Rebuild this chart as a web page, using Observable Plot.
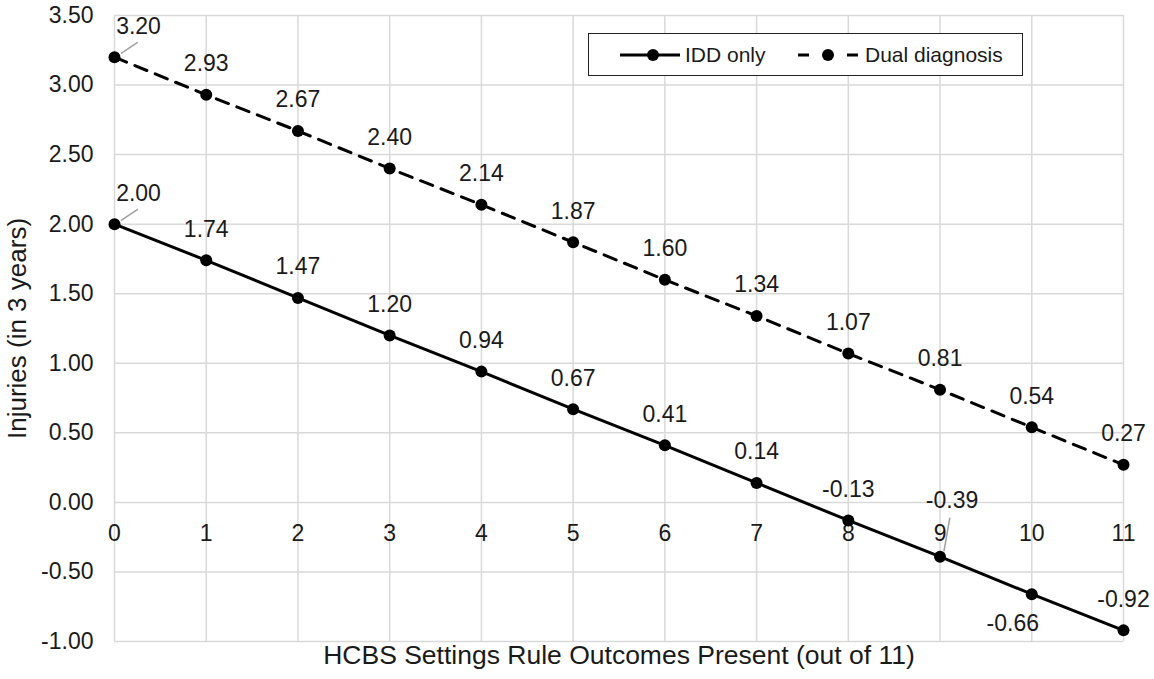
<!DOCTYPE html>
<html><head><meta charset="utf-8">
<script src="https://cdn.jsdelivr.net/npm/d3@7"></script>
<script src="https://cdn.jsdelivr.net/npm/@observablehq/plot@0.6"></script>
<style>
body{margin:0;background:#fff;font-family:"Liberation Sans",Arial,sans-serif;}
#wrap{position:relative;width:1154px;height:679px;}
#legend{position:absolute;left:588px;top:33px;width:433px;height:41px;border:1.5px solid #222;background:#fff;font-size:21px;color:#1a1a1a;}
#legend svg,#legend span{position:absolute;top:50%;transform:translateY(-50%);}
</style></head><body>
<div id="wrap"><div id="chart"></div>
<div id="legend">
  <svg style="left:31px" width="62" height="16"><line x1="0" y1="8" x2="60" y2="8" stroke="#000" stroke-width="3"/><circle cx="33" cy="8" r="6" fill="#000"/></svg>
  <span style="left:96px">IDD only</span>
  <svg style="left:209px" width="62" height="16"><line x1="0" y1="8" x2="60" y2="8" stroke="#000" stroke-width="3" stroke-dasharray="11,19,0,19,11"/><circle cx="30" cy="8" r="6" fill="#000"/></svg>
  <span style="left:276px">Dual diagnosis</span>
</div></div>
<script>
const outcomes = [0,1,2,3,4,5,6,7,8,9,10,11];
const iddOnly = [2.00,1.74,1.47,1.20,0.94,0.67,0.41,0.14,-0.13,-0.39,-0.66,-0.92];
const dualDiagnosis = [3.20,2.93,2.67,2.40,2.14,1.87,1.60,1.34,1.07,0.81,0.54,0.27];
const yTicks = [-1,-0.5,0,0.5,1,1.5,2,2.5,3,3.5];
const seriesNames = ["IDD only","Dual diagnosis"];
const xTitle = "HCBS Settings Rule Outcomes Present (out of 11)";
const yTitle = "Injuries (in 3 years)";

const rows = [];
outcomes.forEach((o,i)=>{
  rows.push({x:o, y:iddOnly[i], series:seriesNames[0], i});
  rows.push({x:o, y:dualDiagnosis[i], series:seriesNames[1], i});
});
const idd = rows.filter(d=>d.series===seriesNames[0]);
const dual = rows.filter(d=>d.series===seriesNames[1]);
const fmt = d=>d.toFixed(2);
const isFirst = d=>d.i===0;
const isM39 = d=>d.series===seriesNames[0] && d.i===9;
const isM66 = d=>d.series===seriesNames[0] && d.i===10;
const standard = rows.filter(d=>!isFirst(d) && !isM39(d) && !isM66(d));
const spike = {draw(ctx,l){ctx.moveTo(0,0);ctx.lineTo(0,-l);}};

const font = '"Liberation Sans", Arial, sans-serif';
const ink = "#1a1a1a";
const plot = Plot.plot({
  width:1154, height:679,
  marginLeft:114, marginRight:31, marginTop:15, marginBottom:38,
  style:{fontFamily:font, fontSize:"23px", color:ink, background:"white", overflow:"visible"},
  x:{domain:[0,11], axis:null},
  y:{domain:[-1,3.5]},
  marks:[
    Plot.gridX(outcomes,{stroke:"#d9d9d9", strokeOpacity:1, strokeWidth:1.5}),
    Plot.gridY(yTicks,{stroke:"#d9d9d9", strokeOpacity:1, strokeWidth:1.5}),
    Plot.axisY(yTicks,{tickSize:0, tickPadding:21, tickFormat:fmt, fontSize:23, label:null, fill:ink}),
    Plot.text(outcomes,{x:d=>d, y:()=>0, text:d=>String(d), dy:31, fontSize:23, fill:ink}),
    Plot.text([yTitle],{frameAnchor:"left", textAnchor:"middle", rotate:-90, dx:-97, fontSize:26, fill:ink}),
    Plot.text([xTitle],{frameAnchor:"bottom", textAnchor:"middle", dy:22, fontSize:26.5, fill:ink}),
    Plot.line(idd,{x:"x", y:"y", stroke:"#000", strokeWidth:3}),
    Plot.line(dual,{x:"x", y:"y", stroke:"#000", strokeWidth:3, strokeDasharray:"13,9"}),
    Plot.dot(rows,{x:"x", y:"y", r:6, fill:"#000"}),
    Plot.vector(rows.filter(isFirst),{x:"x", y:"y", anchor:"start", length:19, rotate:56, shape:spike, stroke:"#a0a0a0", strokeWidth:1.5, dx:7, dy:-4}),
    Plot.vector(rows.filter(isM39),{x:"x", y:"y", anchor:"start", length:33, rotate:10, shape:spike, stroke:"#a0a0a0", strokeWidth:1.5, dx:4, dy:-6}),
    Plot.text(standard,{x:"x", y:"y", text:d=>fmt(d.y), dy:-31, fontSize:23, fill:ink}),
    Plot.text(rows.filter(isFirst),{x:"x", y:"y", text:d=>fmt(d.y), dx:24, dy:-31, fontSize:23, fill:ink}),
    Plot.text(rows.filter(isM39),{x:"x", y:"y", text:d=>fmt(d.y), dx:12, dy:-56, fontSize:23, fill:ink}),
    Plot.text(rows.filter(isM66),{x:"x", y:"y", text:d=>fmt(d.y), dx:-19, dy:29, fontSize:23, fill:ink})
  ]
});
document.getElementById("chart").appendChild(plot);
</script>
</body></html>
